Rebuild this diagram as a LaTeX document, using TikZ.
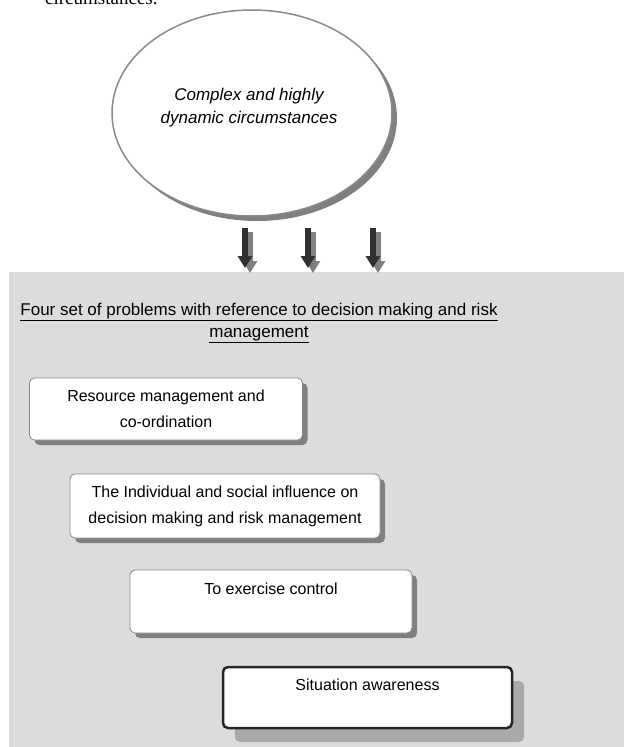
\documentclass[tikz,border=0pt]{standalone}
\usepackage{fontspec}
\setmainfont{Liberation Sans}
\newfontfamily\pageserif{Liberation Serif}
\usetikzlibrary{shapes.geometric,shadows,arrows.meta}
\definecolor{panelgray}{HTML}{DCDCDC}
\definecolor{edgegray}{HTML}{8A8A8A}
\definecolor{shadowgray}{HTML}{808080}
\definecolor{lightshadow}{HTML}{A9A9A9}
\definecolor{arrowdark}{HTML}{303030}
\begin{document}
\begin{tikzpicture}[x=1pt,y=-1pt,
  panel/.style={rectangle, fill=panelgray, draw=none, inner sep=0pt},
  pagetext/.style={inner sep=0pt, font=\pageserif\fontsize{19}{19}\selectfont},
  cloud/.style={ellipse, draw=edgegray, line width=1.5pt, fill=white,
    minimum width=280pt, minimum height=206pt, inner sep=0pt, align=center,
    font=\fontsize{17}{23}\selectfont\itshape,
    general shadow={fill=shadowgray, shadow xshift=5pt, shadow yshift=-5pt}},
  cloudtext/.style={inner sep=0pt, align=center, font=\fontsize{17}{23}\selectfont\itshape},
  titletext/.style={inner sep=0pt, align=center, font=\fontsize{17}{22}\selectfont},
  probbox/.style={rectangle, rounded corners=5pt, draw=edgegray, line width=0.8pt,
    fill=white, align=center, inner sep=0pt, font=\fontsize{16}{26}\selectfont,
    general shadow={fill=shadowgray, shadow xshift=5pt, shadow yshift=-5pt}},
  keybox/.style={rectangle, rounded corners=5pt, draw=black!85, line width=2.5pt,
    fill=white, align=center, inner sep=0pt, font=\fontsize{16}{26}\selectfont,
    general shadow={fill=lightshadow, shadow xshift=12pt, shadow yshift=-14pt}},
  flowarrow/.style={draw=arrowdark, fill=arrowdark, line width=6pt,
    -{Triangle[width=14pt,length=12pt]}},
  flowshade/.style={draw=shadowgray, fill=shadowgray, line width=5pt,
    -{Triangle[width=14pt,length=12pt]}}
]
\useasboundingbox (0,0) rectangle (624,747);
\fill[white] (0,0) rectangle (624,747);

% page text cut at the top
\node[pagetext, anchor=base west] (pagetop) at (45,4) {circumstances.};

% grey panel
\node[panel, anchor=north west, minimum width=615pt, minimum height=475pt] (panel) at (9,272) {};

% arrows
\coordinate (s1) at (245,228); \coordinate (e1) at (245,268);
\coordinate (s2) at (308,228); \coordinate (e2) at (308,268);
\coordinate (s3) at (373,228); \coordinate (e3) at (373,268);
\foreach \k in {1,2,3} {
  \draw[flowshade] ([shift={(5,4)}]s\k) -- ([shift={(5,5)}]e\k);
  \draw[flowarrow] (s\k) -- (e\k);
}

% ellipse
\node[cloud] (cloud) at (252,113) {};
\node[cloudtext] (cloudlabel) at (249,108) {Complex and highly\\dynamic circumstances};

% title
\node[titletext] (title) at (259,323) {\underline{Four set of problems with reference to decision making and risk}\\\underline{management}};

% boxes
\node[probbox, minimum width=273pt, minimum height=62pt] (b1) at (166,409) {Resource management and\\co-ordination};
\node[probbox, minimum width=310pt, minimum height=64pt] (b2) at (225,506) {The Individual and social influence on\\decision making and risk management};
\node[probbox, minimum width=282pt, minimum height=63pt] (b3) at (271,601.5) {To exercise control\\\mbox{}};
\node[keybox, minimum width=289pt, minimum height=61pt] (b4) at (367.5,697.5) {Situation awareness\\\mbox{}};
\end{tikzpicture}
\end{document}
